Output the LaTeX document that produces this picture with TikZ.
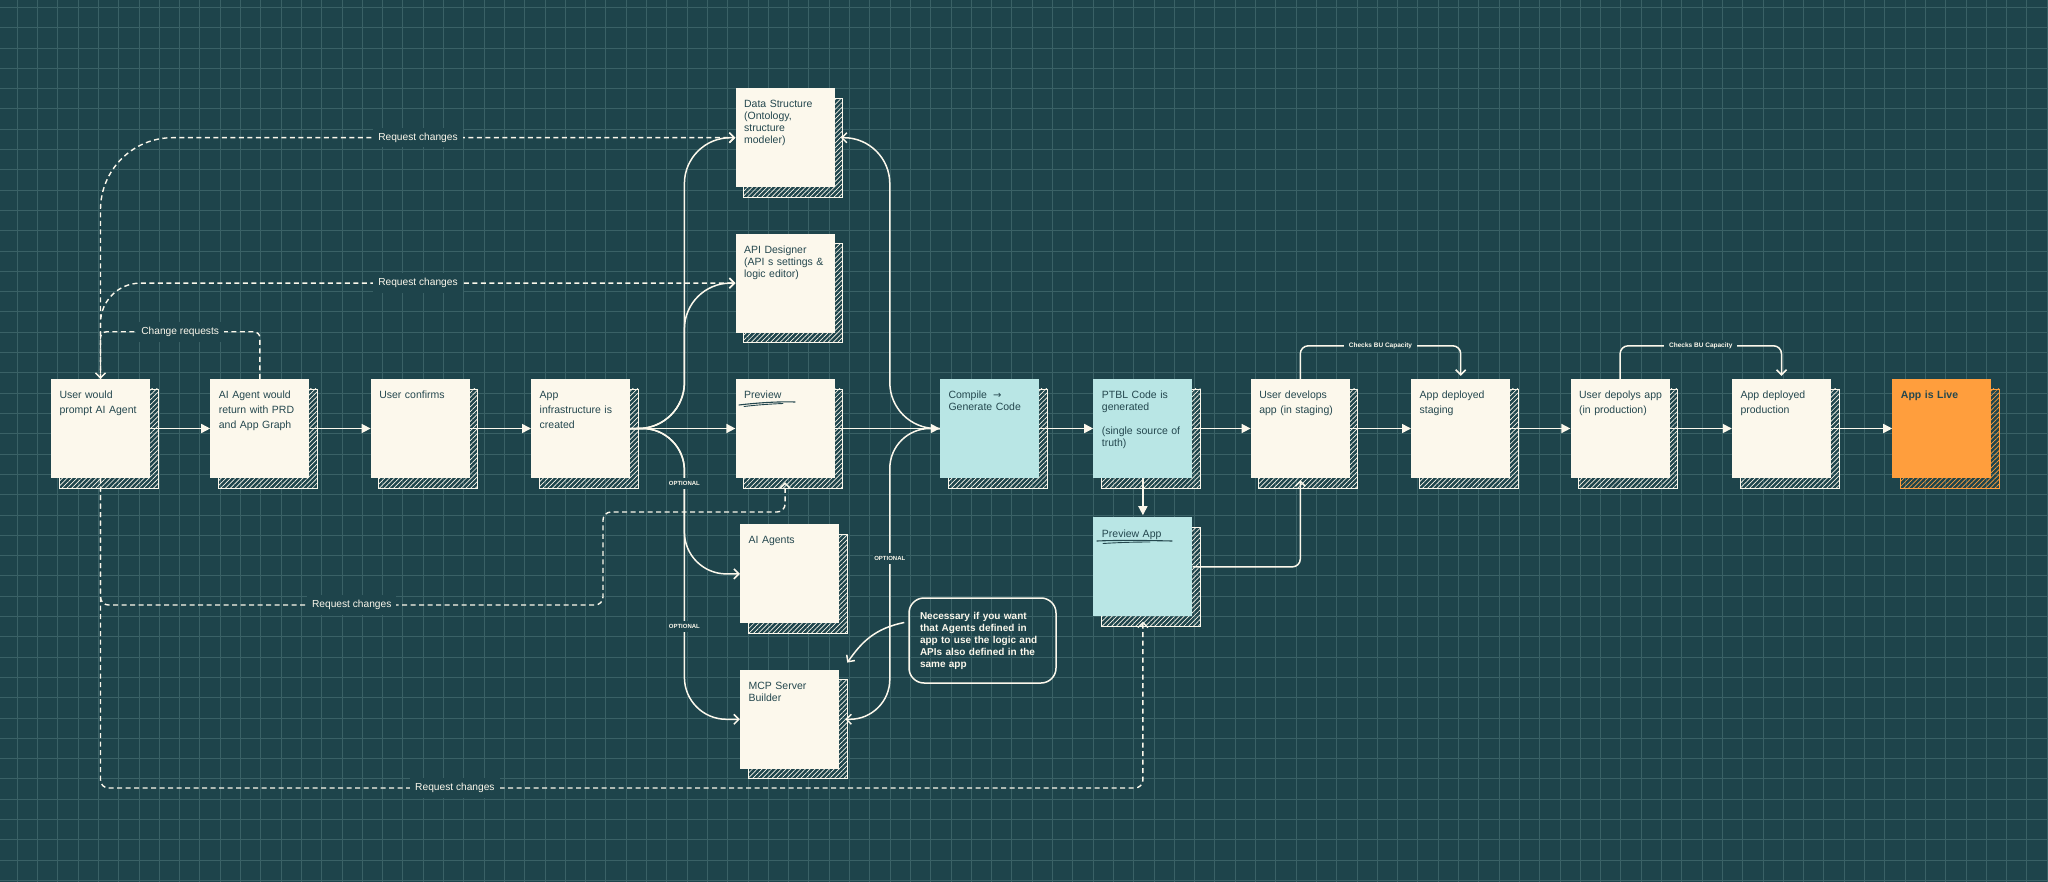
\documentclass[tikz,border=0pt]{standalone}
\usepackage{fontspec}
\setmainfont{Liberation Sans}
\newfontfamily\arrowfont{DejaVu Sans}
\usetikzlibrary{positioning, arrows.meta, shadows, patterns.meta}

\definecolor{bg_color}{HTML}{1E444B}
\definecolor{grid_color}{HTML}{3A6166}
\definecolor{cream_color}{HTML}{FCF8EC}
\definecolor{teal_color}{HTML}{B9E6E5}
\definecolor{orange_color}{HTML}{FF9E3D}
\definecolor{ink_color}{HTML}{24474E}

\begin{document}
\begin{tikzpicture}[
    x=1pt, y=-1pt,
    hatch/.style={
        drop shadow={
            shadow xshift=8pt,
            shadow yshift=-10pt,
            opacity=1,
            draw=#1,
            line width=0.7pt,
            pattern={Lines[angle=45, distance=3.4pt, line width=0.7pt]},
            pattern color=#1
        }
    },
    boxbase/.style={
        rectangle,
        minimum width=99pt,
        minimum height=99pt,
        inner sep=0pt
    },
    card/.style={boxbase, fill=cream_color, hatch=cream_color},
    tealcard/.style={boxbase, fill=teal_color, hatch=cream_color},
    livecard/.style={boxbase, fill=orange_color, hatch=orange_color},
    cardtext/.style={
        anchor=north west,
        xshift=8.5pt,
        yshift=-12pt,
        inner sep=0pt,
        align=left,
        text width=88pt,
        text=ink_color,
        font=\fontsize{10.5}{15}\selectfont
    },
    tighttext/.style={cardtext, font=\fontsize{10.5}{12}\selectfont},
    note/.style={
        draw=cream_color,
        line width=1.5pt,
        rounded corners=15pt,
        minimum width=147pt,
        minimum height=85pt,
        text width=125pt,
        inner xsep=11pt,
        align=left,
        text=cream_color,
        font=\fontsize{10}{12}\selectfont\bfseries
    },
    lbl/.style={
        sharp corners,
        fill=bg_color,
        text=cream_color,
        inner sep=5pt,
        font=\fontsize{10.2}{12}\selectfont
    },
    tag/.style={
        sharp corners,
        fill=bg_color,
        text=cream_color,
        inner xsep=1pt,
        inner ysep=3pt,
        font=\fontsize{6}{7}\selectfont\bfseries
    },
    checktag/.style={tag, inner xsep=5pt, font=\fontsize{6.5}{7}\selectfont\bfseries},
    mainflow/.style={
        draw=cream_color,
        line width=1.6pt,
        -{Triangle[length=9pt, width=9pt]}
    },
    flow/.style={
        draw=cream_color,
        line width=1.5pt,
        -{Straight Barb[length=5pt, width=10pt]}
    },
    dashflow/.style={flow, line width=1.4pt, dash pattern=on 5pt off 3.5pt},
    gridline/.style={draw=grid_color, line width=0.6pt}
]

% Canvas and grid
\useasboundingbox (0,0) rectangle (2048,882);
\fill[bg_color] (0,0) rectangle (2048,882);
\foreach \gx in {0,...,100} \draw[gridline] ({17+20.3*\gx},0) -- ++(0,882);
\foreach \gy in {0,...,43} \draw[gridline] (0,{7.3+20.3*\gy}) -- ++(2048,0);

% Main row
\node[card] (user) at (100.5,428.5) {};
\node[cardtext] at (user.north west) {User would\\prompt AI Agent};

\node[card, right=60pt of user] (agent) {};
\node[cardtext] at (agent.north west) {AI Agent would\\return with PRD\\and App Graph};

\node[card, right=61pt of agent] (confirm) {};
\node[cardtext] at (confirm.north west) {User confirms};

\node[card, right=61pt of confirm] (infra) {};
\node[cardtext] at (infra.north west) {App\\infrastructure is\\created};

\node[card, right=105pt of infra] (preview) {};
\node[tighttext] at (preview.north west) {Preview};

\node[tealcard, right=105pt of preview] (compile) {};
\node[tighttext] at (compile.north west) {Compile\hspace{6pt}{\arrowfont\fontsize{10}{12}\selectfont →}\\Generate Code};

\node[tealcard, right=54pt of compile] (ptbl) {};
\node[tighttext] at (ptbl.north west) {PTBL Code is\\generated\\[12pt](single source of\\truth)};

\node[card, right=58pt of ptbl] (userdev) {};
\node[cardtext] at (userdev.north west) {User develops\\app (in staging)};

\node[card, right=61pt of userdev] (staging) {};
\node[cardtext] at (staging.north west) {App deployed\\staging};

\node[card, right=60pt of staging] (userprod) {};
\node[cardtext] at (userprod.north west) {User depolys app\\(in production)};

\node[card, right=62pt of userprod] (prod) {};
\node[cardtext] at (prod.north west) {App deployed\\production};

\node[livecard, right=61pt of prod] (live) {};
\node[cardtext, font=\fontsize{10.5}{15}\selectfont\bfseries] at (live.north west) {App is Live};

% Builder column
\node[card, above=46pt of preview] (api) {};
\node[tighttext] at (api.north west) {API Designer\\(API s settings \&\\logic editor)};

\node[card, above=46pt of api] (ds) {};
\node[tighttext] at (ds.north west) {Data Structure\\(Ontology,\\structure\\modeler)};

\node[card, below=46pt of preview, xshift=4.5pt] (agents) {};
\node[tighttext] at (agents.north west) {AI Agents};

\node[card, below=46pt of agents] (mcp) {};
\node[tighttext] at (mcp.north west) {MCP Server\\Builder};

\node[tealcard, below=39pt of ptbl] (previewapp) {};
\node[tighttext] at (previewapp.north west) {Preview App};

% Hand-drawn underlines
\draw[ink_color, line width=1.1pt, line cap=round] (739,405) .. controls (760,402.5) and (780,401.5) .. (795,402);
\draw[ink_color, line width=0.9pt, line cap=round] (744,406.5) .. controls (756,405) and (770,404) .. (783,403.5);
\draw[ink_color, line width=1.1pt, line cap=round] (1097,541) .. controls (1120,540) and (1150,540.5) .. (1172,541);
\draw[ink_color, line width=0.9pt, line cap=round] (1103,543.5) .. controls (1118,542.5) and (1135,542) .. (1150,542);

% Note
\node[note] (note) at (982.5,640.5) {Necessary if you want\\that Agents defined in\\app to use the logic and\\APIs also defined in the\\same app};

% Main arrows
\draw[mainflow] (user.east) -- (agent.west);
\draw[mainflow] (agent.east) -- (confirm.west);
\draw[mainflow] (confirm.east) -- (infra.west);
\draw[mainflow] (infra.east) -- (preview.west);
\draw[mainflow] (preview.east) -- (compile.west);
\draw[mainflow] (compile.east) -- (ptbl.west);
\draw[mainflow] (ptbl.east) -- (userdev.west);
\draw[mainflow] (userdev.east) -- (staging.west);
\draw[mainflow] (staging.east) -- (userprod.west);
\draw[mainflow] (userprod.east) -- (prod.west);
\draw[mainflow] (prod.east) -- (live.west);
\draw[mainflow] (ptbl.south) -- ([yshift=2pt]previewapp.north);

% Fork from infrastructure
\coordinate (fork) at ([xshift=54pt]infra.east);
\draw[flow, rounded corners=46pt] (infra.east) -| (fork |- ds.west) -- (ds.west);
\draw[flow, rounded corners=46pt] (infra.east) -| (fork |- api.west) -- (api.west);
\draw[flow, rounded corners=42pt] (infra.east) -| (fork |- agents.west) -- (agents.west);
\draw[flow, rounded corners=42pt] (infra.east) -| (fork |- mcp.west) -- (mcp.west);
\node[tag] (opt1) at ([yshift=-55pt]fork) {OPTIONAL};
\node[tag] (opt2) at ([yshift=-198pt]fork) {OPTIONAL};

% Merge into compile
\coordinate (merge) at ([xshift=-50pt]compile.west);
\draw[flow, rounded corners=46pt] (compile.west) -| (merge |- ds.east) -- ([xshift=6pt]ds.east);
\draw[flow, rounded corners=40pt] (compile.west) -| (merge |- mcp.east) -- ([xshift=6pt]mcp.east);
\node[tag] (opt3) at ([yshift=-130pt]merge) {OPTIONAL};

\draw[flow] ([shift={(-4pt,18pt)}]note.west) .. controls +(-30,6) and +(14,-20) .. ([shift={(8pt,7pt)}]mcp.north east);

% Preview app back to staging work
\draw[flow, rounded corners=8pt] (previewapp.east) -| ([yshift=-2pt]userdev.south);

% Capacity checks
\draw[flow, rounded corners=8pt] (userdev.north) -- ++(0,-33) -| node[checktag, pos=0.25] (cb1) {Checks BU Capacity} ([yshift=3pt]staging.north);
\draw[flow, rounded corners=8pt] (userprod.north) -- ++(0,-33) -| node[checktag, pos=0.25] (cb2) {Checks BU Capacity} ([yshift=3pt]prod.north);

% Change request loops
\coordinate (detour) at (603,512);
\coordinate (floor) at (0,788);
\draw[dashflow, rounded corners=72pt] (user.north) |- node[lbl, pos=0.75] (rc1) {Request changes} (ds.west);
\draw[dashflow, rounded corners=40pt] (user.north) |- node[lbl, pos=0.75] (rc2) {Request changes} (api.west);
\draw[dashflow, rounded corners=6pt] (agent.north) -- ++(0,-47) -| node[lbl, pos=0.25] (cr) {Change requests} (user.north);
\draw[dashflow, rounded corners=8pt] (user.south) |- node[lbl, pos=0.75] (rc3) {Request changes} ([yshift=-93pt]detour) -- (detour) -| ([yshift=-4pt]preview.south);
\draw[dashflow, rounded corners=8pt] (user.south) |- node[lbl, pos=0.67] (rc4) {Request changes} (previewapp.south |- floor) -- ([yshift=-5pt]previewapp.south);

\end{tikzpicture}
\end{document}
